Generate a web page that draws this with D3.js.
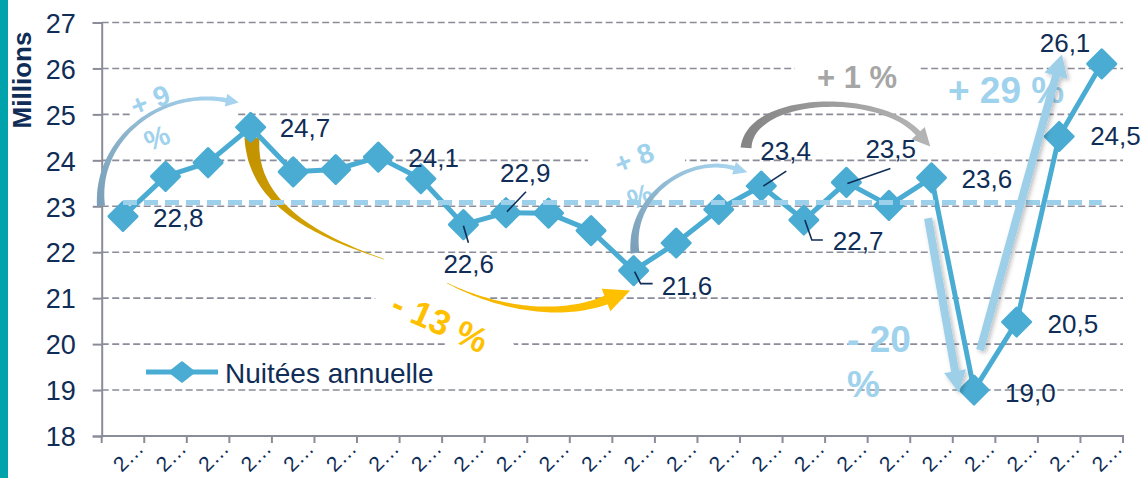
<!DOCTYPE html>
<html>
<head>
<meta charset="utf-8">
<script src="https://cdn.jsdelivr.net/npm/d3@7"></script>
<style>
body{margin:0;background:#fff;}
svg{display:block;font-family:Arial,"Liberation Sans",sans-serif;}
</style>
</head>
<body>
<svg id="chart"></svg>
<script>
// categories (labels get cut to "2…" like in the original)
var years = [2000,2001,2002,2003,2004,2005,2006,2007,2008,2009,2010,2011,
             2012,2013,2014,2015,2016,2017,2018,2019,2020,2021,2022,2023];
// nuitées annuelles, millions
var nuitees = [22.78,23.65,23.95,24.72,23.75,23.8,24.07,23.6,22.6,22.86,22.85,22.47,
               21.6,22.2,22.93,23.44,22.7,23.52,23.02,23.62,19.0,20.48,24.52,26.1];
var moyenne = [23.08];
var yTicks = [18,19,20,21,22,23,24,25,26,27];

// which points get a value label, where the label sits (dx, dy from the point)
var labelled    = [0,3,6,8,9,12,15,16,17,19,20,21,22,23];
var labelOffset = [[30,11],[29,10],[30,10],[-20,48],[-6,-31],[28,24],[-1,-26],
                   [29,30],[19,-24],[30,10],[31,12],[31,11],[31,9],[-62,-12]];
// leader lines, relative to the point
var leaders = {8:[[0,1],[5,18]], 9:[[1,-1],[20,-21]], 12:[[1,1],[7,13],[19,13]],
               15:[[2,0],[25,-15]], 16:[[1,0],[8,20],[19,20]], 17:[[1,1],[44,-14]]};

// annotation shapes, in (category index, value) space
var curvedArrows = [
  {id:"a9", pts:[[-0.517,23.01],[-0.658,24.44],[0.870,25.57],[2.421,25.31]], w:[8,1.5,4.5], head:[13,13], col:["#7b9fb8","#a6d4ee"], back:false},
  {id:"g1", pts:[[3.032,24.49],[3.032,23.35],[3.925,22.53],[6.134,21.85]], w:[15,5,0.5], head:[0,0], col:["#c29200","#dcaa00"], back:true},
  {id:"g2", pts:[[7.615,21.33],[8.625,20.85],[10.129,20.52],[11.351,20.96]], w:[0.5,4,9], head:[26,24], col:["#f2b500","#ffc000"], back:true},
  {id:"a8", pts:[[12.033,21.98],[11.868,23.25],[13.325,24.12],[14.359,23.83]], w:[9,1.5,4.5], head:[14,13], col:["#7b9fb8","#a6d4ee"], back:false},
  {id:"a1", pts:[[14.642,24.27],[14.736,25.42],[17.744,25.53],[18.684,24.59]], w:[11,2.5,6], head:[18,18], col:["#858585","#b3b3b3"], back:false}
];
var straightArrows = [
  {id:"d20", from:[18.919,22.74], to:[19.554,19.41], w:8, head:[22,22]},
  {id:"u29", from:[20.141,19.87], to:[21.927,25.84], w:8, head:[22,24]}
];
var whiteBoxes = [
  [[0.165,25.70],[2.632,25.70],[2.632,24.77],[0.165,24.77]],
  [[10.929,24.49],[13.208,24.49],[13.208,23.35],[10.929,23.35]],
  [[15.793,26.44],[18.731,26.44],[18.731,25.42],[15.793,25.42]],
  [[5.617,21.18],[8.461,21.18],[9.260,19.87],[7.826,19.87]]
];
var notes = [
  {t:"+ 9", at:[0.635,25.31], rot:-22, size:28, fill:"#9fd2ec", anchor:"middle"},
  {t:"%", at:[0.799,24.49], rot:-22, size:28, fill:"#9fd2ec", anchor:"middle"},
  {t:"+ 8", at:[12.01,24.05], rot:-22, size:28, fill:"#9fd2ec", anchor:"middle"},
  {t:"%", at:[12.15,23.22], rot:-22, size:28, fill:"#9fd2ec", anchor:"middle"},
  {t:"- 13 %", at:[7.45,20.48], rot:24, size:35, fill:"#ffc000", anchor:"middle"},
  {t:"+ 1 %", at:[17.25,25.81], rot:0, size:31, fill:"#a6a6a6", anchor:"middle"},
  {t:"+ 29 %", at:[20.752,25.53], rot:0, size:37, fill:"#9fd2ec", anchor:"middle"},
  {t:"- 20", at:[17.015,20.11], rot:0, size:37, fill:"#9fd2ec", anchor:"start"},
  {t:"%", at:[17.015,19.13], rot:0, size:37, fill:"#9fd2ec", anchor:"start"}
];

var width = 1141, height = 478;
var navy = "#0f2d56", blue = "#4aacd3", grid = "#8a8d99";

var svg = d3.select("#chart").attr("width", width).attr("height", height);
var defs = svg.append("defs");

var x = d3.scaleBand().domain(years).range([101.7, 1123]).padding(0);
var bw = x.bandwidth();
var y = d3.scaleLinear().domain([18, 27]).range([436, 22.5]);
var xi = d3.scaleLinear().domain([0, years.length - 1])
  .range([x(years[0]) + bw / 2, x(years[years.length - 1]) + bw / 2]);
var P = function(d) { return [xi(d[0]), y(d[1])]; };

// teal strip on the left
svg.append("rect").attr("width", 8).attr("height", height).attr("fill", "#00a2ab");

svg.append("text")
  .attr("transform", "translate(31,80) rotate(-90)")
  .attr("text-anchor", "middle")
  .attr("font-size", 26).attr("font-weight", "bold").attr("fill", navy)
  .text("Millions");

// dashed gridlines
svg.append("g").selectAll("line")
  .data(yTicks.slice(1))
  .enter().append("line")
  .attr("x1", 101.7).attr("x2", 1123)
  .attr("y1", function(d) { return y(d); }).attr("y2", function(d) { return y(d); })
  .attr("stroke", grid).attr("stroke-width", 1.6).attr("stroke-dasharray", "7,3.5");

// white text boxes that hide bits of the grid
svg.append("g").selectAll("polygon")
  .data(whiteBoxes)
  .enter().append("polygon")
  .attr("points", function(b) { return b.map(P).join(" "); })
  .attr("fill", "#fff");

// y axis
var yAxis = svg.append("g")
  .attr("transform", "translate(101.7,0)")
  .call(d3.axisLeft(y).tickValues(yTicks).tickSize(9).tickPadding(17).tickFormat(d3.format("d")));
yAxis.select(".domain").attr("stroke", grid).attr("stroke-width", 2);
yAxis.selectAll(".tick line").attr("stroke", grid).attr("stroke-width", 2);
yAxis.selectAll("text").attr("font-size", 27).attr("fill", navy)
  .attr("font-family", "Arial, 'Liberation Sans', sans-serif").attr("dy", "0.36em");

// x axis: labels at band centres, ticks on band edges
var xAxis = svg.append("g")
  .attr("transform", "translate(0,436)")
  .call(d3.axisBottom(x).tickSize(0).tickFormat(function(d) { return String(d).charAt(0) + "\u2026"; }));
xAxis.select(".domain").remove();
xAxis.selectAll("text")
  .attr("x", 0).attr("y", 0).attr("dy", 0)
  .attr("text-anchor", "end")
  .attr("transform", "translate(22,14) rotate(-45)")
  .attr("font-size", 21).attr("fill", navy)
  .attr("font-family", "Arial, 'Liberation Sans', sans-serif");
svg.append("line").attr("x1", 100.7).attr("x2", 1124).attr("y1", 436).attr("y2", 436)
  .attr("stroke", grid).attr("stroke-width", 2);
svg.append("g").selectAll("line")
  .data(years.concat([null]))
  .enter().append("line")
  .attr("x1", function(d, i) { return x.range()[0] + i * bw; })
  .attr("x2", function(d, i) { return x.range()[0] + i * bw; })
  .attr("y1", 436).attr("y2", 443)
  .attr("stroke", grid).attr("stroke-width", 2);

// arrow shape: a band of varying width along a cubic curve, plus a head
var arrowPath = function(p, w0, wm, w1, headLen, headW) {
  var n = 48, L = [], R = [], end;
  for (var k = 0; k <= n; k++) {
    var t = k / n, u = 1 - t;
    var px = u*u*u*p[0][0] + 3*u*u*t*p[1][0] + 3*u*t*t*p[2][0] + t*t*t*p[3][0];
    var py = u*u*u*p[0][1] + 3*u*u*t*p[1][1] + 3*u*t*t*p[2][1] + t*t*t*p[3][1];
    var dx = 3*u*u*(p[1][0]-p[0][0]) + 6*u*t*(p[2][0]-p[1][0]) + 3*t*t*(p[3][0]-p[2][0]);
    var dy = 3*u*u*(p[1][1]-p[0][1]) + 6*u*t*(p[2][1]-p[1][1]) + 3*t*t*(p[3][1]-p[2][1]);
    var len = Math.hypot(dx, dy) || 1;
    var nx = -dy / len, ny = dx / len;
    var w = (u*u*w0 + 2*u*t*wm + t*t*w1) / 2;
    L.push([px + nx*w, py + ny*w]);
    R.push([px - nx*w, py - ny*w]);
    end = {x:px, y:py, tx:dx/len, ty:dy/len, nx:nx, ny:ny};
  }
  var pts = L.slice();
  if (headLen) {
    pts.push([end.x + end.nx*headW/2, end.y + end.ny*headW/2]);
    pts.push([end.x + end.tx*headLen, end.y + end.ty*headLen]);
    pts.push([end.x - end.nx*headW/2, end.y - end.ny*headW/2]);
  }
  pts = pts.concat(R.reverse());
  return "M" + pts.map(function(q) { return q[0].toFixed(1) + "," + q[1].toFixed(1); }).join("L") + "Z";
};

var gradient = function(id, a, b, c0, c1) {
  var g = defs.append("linearGradient").attr("id", id).attr("gradientUnits", "userSpaceOnUse")
    .attr("x1", a[0]).attr("y1", a[1]).attr("x2", b[0]).attr("y2", b[1]);
  g.append("stop").attr("offset", "0").attr("stop-color", c0);
  g.append("stop").attr("offset", "1").attr("stop-color", c1);
};

var shadow = defs.append("filter").attr("id", "soft").attr("x", "-30%").attr("y", "-30%")
  .attr("width", "160%").attr("height", "160%");
shadow.append("feDropShadow").attr("dx", 2).attr("dy", 2).attr("stdDeviation", 2)
  .attr("flood-color", "#000").attr("flood-opacity", 0.25);

var drawCurved = function(layer, a) {
  var p = a.pts.map(P);
  gradient("grad-" + a.id, p[0], p[3], a.col[0], a.col[1]);
  layer.append("path")
    .attr("d", arrowPath(p, a.w[0], a.w[1], a.w[2], a.head[0], a.head[1]))
    .attr("fill", "url(#grad-" + a.id + ")");
};

// gold arrow sits under the series
var backLayer = svg.append("g");
curvedArrows.filter(function(a) { return a.back; }).forEach(function(a) { drawCurved(backLayer, a); });

// series
var line = d3.line()
  .x(function(d, i) { return x(years[i]) + bw / 2; })
  .y(function(d) { return y(d); });
svg.append("path").datum(nuitees)
  .attr("d", line).attr("fill", "none")
  .attr("stroke", blue).attr("stroke-width", 5).attr("stroke-linejoin", "round");

var diamond = function(r, h) { return "M0," + (-h) + "L" + r + ",0L0," + h + "L" + (-r) + ",0Z"; };
svg.append("g").selectAll("path")
  .data(nuitees)
  .enter().append("path")
  .attr("transform", function(d, i) { return "translate(" + (x(years[i]) + bw / 2) + "," + y(d) + ")"; })
  .attr("d", diamond(14, 14))
  .attr("fill", blue).attr("stroke", blue).attr("stroke-width", 3).attr("stroke-linejoin", "round");

// average line
svg.append("line")
  .attr("x1", xi(0)).attr("x2", xi(years.length - 1))
  .attr("y1", y(moyenne[0])).attr("y2", y(moyenne[0]))
  .attr("stroke", "#9dd0ea").attr("stroke-width", 5).attr("stroke-dasharray", "14,7");

// annotation texts
svg.append("g").selectAll("text")
  .data(notes)
  .enter().append("text")
  .attr("transform", function(d) { var p = P(d.at); return "translate(" + p[0] + "," + p[1] + ") rotate(" + d.rot + ")"; })
  .attr("dy", "0.35em")
  .attr("text-anchor", function(d) { return d.anchor; })
  .attr("font-size", function(d) { return d.size; })
  .attr("font-weight", "bold")
  .attr("fill", function(d) { return d.fill; })
  .text(function(d) { return d.t; });

// other arrows
var frontLayer = svg.append("g");
curvedArrows.filter(function(a) { return !a.back; }).forEach(function(a) { drawCurved(frontLayer, a); });
straightArrows.forEach(function(a) {
  var p0 = P(a.from), p3 = P(a.to);
  var pts = [p0, d3.interpolate(p0, p3)(1 / 3), d3.interpolate(p0, p3)(2 / 3), p3];
  frontLayer.append("path")
    .attr("d", arrowPath(pts, a.w, a.w, a.w, a.head[0], a.head[1]))
    .attr("fill", "#9dcfe8")
    .attr("filter", "url(#soft)");
});

// value labels and leader lines
var fmt = function(v) { return d3.format(".1f")(v).replace(".", ","); };
var labels = svg.append("g");
labelled.forEach(function(i, k) {
  var px = x(years[i]) + bw / 2, py = y(nuitees[i]);
  labels.append("text")
    .attr("x", px + labelOffset[k][0]).attr("y", py + labelOffset[k][1])
    .attr("font-size", 26).attr("fill", navy)
    .text(fmt(nuitees[i]));
  if (leaders[i]) {
    labels.append("path")
      .attr("d", "M" + leaders[i].map(function(o) { return (px + o[0]) + "," + (py + o[1]); }).join("L"))
      .attr("fill", "none").attr("stroke", navy).attr("stroke-width", 1.6);
  }
});

// legend
var legend = svg.append("g").attr("transform", "translate(146,372)");
legend.append("line").attr("x1", 0).attr("x2", 72).attr("stroke", blue).attr("stroke-width", 5);
legend.append("path").attr("transform", "translate(36,0)").attr("d", diamond(12, 9.5))
  .attr("fill", blue).attr("stroke", blue).attr("stroke-width", 2.5).attr("stroke-linejoin", "round");
legend.append("text").attr("x", 79).attr("y", 11)
  .attr("font-size", 28).attr("fill", navy).text("Nuitées annuelle");
</script>
</body>
</html>
